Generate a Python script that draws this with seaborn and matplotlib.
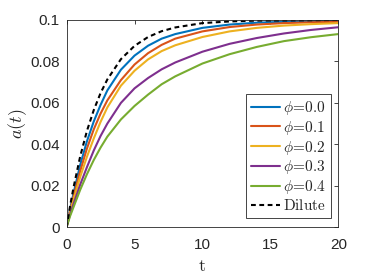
import numpy as np
import pandas as pd
import matplotlib
matplotlib.use("Agg")
import matplotlib.pyplot as plt
import seaborn as sns

# ---- data ----
t = [0, 0.25, 0.5, 1, 1.5, 2, 2.5, 3, 4, 5, 6, 7, 8, 10, 12, 14, 16, 18, 20]

phi00 = [0, 0.0085, 0.0160, 0.0300, 0.0415, 0.0510, 0.0590, 0.0660, 0.0760, 0.0828, 0.0876,
         0.0910, 0.0932, 0.0962, 0.0978, 0.0987, 0.0991, 0.0994, 0.0996]
phi01 = [0, 0.0078, 0.0145, 0.0270, 0.0380, 0.0472, 0.0548, 0.0612, 0.0710, 0.0785, 0.0840,
         0.0880, 0.0910, 0.0945, 0.0966, 0.0978, 0.0985, 0.0989, 0.0991]
phi02 = [0, 0.0070, 0.0130, 0.0242, 0.0340, 0.0428, 0.0508, 0.0578, 0.0683, 0.0755, 0.0810,
         0.0850, 0.0878, 0.0918, 0.0945, 0.0962, 0.0973, 0.0980, 0.0985]
phi03 = [0, 0.0060, 0.0110, 0.0205, 0.0290, 0.0370, 0.0440, 0.0500, 0.0600, 0.0670, 0.0720,
         0.0762, 0.0795, 0.0847, 0.0885, 0.0913, 0.0935, 0.0952, 0.0965]
phi04 = [0, 0.0052, 0.0095, 0.0180, 0.0256, 0.0324, 0.0384, 0.0437, 0.0520, 0.0585, 0.0640,
         0.0690, 0.0728, 0.0790, 0.0835, 0.0870, 0.0898, 0.0917, 0.0932]
dilute = [0, 0.0099, 0.0188, 0.0341, 0.0465, 0.0565, 0.0647, 0.0713, 0.0811, 0.0875, 0.0918,
          0.0946, 0.0964, 0.0985, 0.0993, 0.0997, 0.0998, 0.0999, 0.1000]

series_names = [r"$\phi\!=\!0.0$", r"$\phi\!=\!0.1$", r"$\phi\!=\!0.2$",
                r"$\phi\!=\!0.3$", r"$\phi\!=\!0.4$", r"$\mathrm{Dilute}$"]
series_values = [phi00, phi01, phi02, phi03, phi04, dilute]
colors = ["#0072BD", "#D95319", "#EDB120", "#7E2F8E", "#77AC30", "black"]

x_ticks = [0, 5, 10, 15, 20]
y_ticks = [0, 0.02, 0.04, 0.06, 0.08, 0.1]
y_tick_labels = ["0", "0.02", "0.04", "0.06", "0.08", "0.1"]

# ---- plotting ----
sns.set_theme(style="white")
plt.rcParams["font.family"] = ["Liberation Sans", "DejaVu Sans"]
plt.rcParams["mathtext.fontset"] = "cm"

frames = []
for name, vals in zip(series_names, series_values):
    frames.append(pd.DataFrame({"t": t, "a": vals, "series": name}))
df = pd.concat(frames, ignore_index=True)

fig = plt.figure(figsize=(3.74, 2.80), dpi=100)
ax = fig.add_axes([0.178, 0.1886, 0.7266, 0.74])

dash_map = {n: "" for n in series_names}
dash_map[r"$\mathrm{Dilute}$"] = (2.3, 1.7)
sns.lineplot(data=df, x="t", y="a", hue="series", style="series",
             hue_order=series_names, style_order=series_names,
             palette=dict(zip(series_names, colors)), dashes=dash_map,
             linewidth=1.5, ax=ax, legend=True)

ax.set_xlim(0, 20)
ax.set_ylim(0, 0.1)
ax.set_xticks(x_ticks)
ax.set_yticks(y_ticks)
ax.set_yticklabels(y_tick_labels)
ax.tick_params(direction="in", length=3, width=0.6, colors="#262626",
               labelsize=11, top=True, right=True)
ax.tick_params(axis="x", pad=8)
ax.tick_params(axis="y", pad=5)
for sp in ax.spines.values():
    sp.set_color("#262626")
    sp.set_linewidth(0.6)

ax.set_xlabel(r"$\mathrm{t}$", fontsize=13, labelpad=4)
ax.set_ylabel(r"$a(t)$", fontsize=13, labelpad=1)

handles, labels = ax.get_legend_handles_labels()
leg = ax.legend(handles, labels, loc="lower right", bbox_to_anchor=(0.972, 0.046),
                borderaxespad=0, fontsize=11, handlelength=1.9, handletextpad=0.2,
                labelspacing=0.12, borderpad=0.3, fancybox=False, framealpha=1,
                edgecolor="#262626")
leg.get_frame().set_linewidth(0.6)

fig.savefig("out.png", dpi=100)
